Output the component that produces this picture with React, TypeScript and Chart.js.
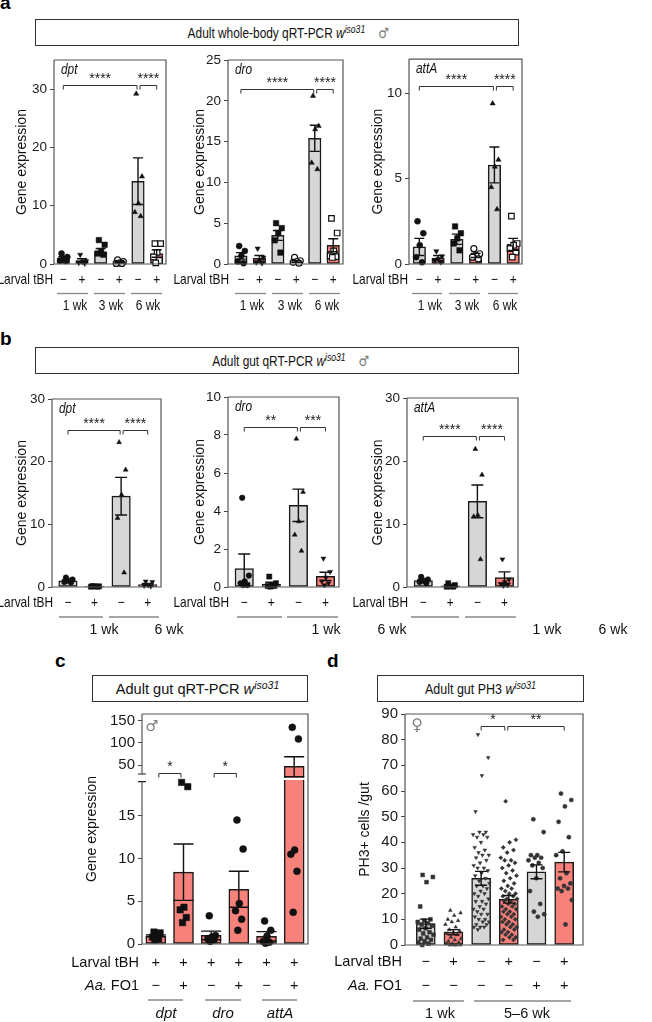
import React, { useEffect, useRef } from 'react';
import { Chart, registerables } from 'chart.js';

Chart.register(...registerables);

const FONT = '"Liberation Sans", Arial, Helvetica, sans-serif';
const SYM_FONT = '"DejaVu Sans", sans-serif';
const GRAY = '#d6d6d6';
const RED = '#f7817b';

// ===== Panel a: adult whole-body qRT-PCR =====
const aLarvalTbh = ['−', '+', '−', '+', '−', '+'];
const aWeeks = ['1 wk', '3 wk', '6 wk'];
const aDptTicks = [0, 10, 20, 30];
const aDroTicks = [0, 5, 10, 15, 20, 25];
const aAttTicks = [0, 5, 10];
const aDptMean = [1.0, 0.6, 2.1, 0.3, 14.2, 1.8];
const aDptSem = [0.25, 0.3, 0.55, 0.12, 4.0, 0.65];
const aDptPts = [[1.8, 1.2, 0.9, 0.6, 0.5], [1.6, 0.5, 0.4, 0.2, 0.1], [4.1, 3.3, 2.1, 1.8, 1.6], [0.7, 0.4, 0.2, 0.1, 0.1], [29.2, 15.0, 10.4, 8.9, 8.2], [3.5, 3.5, 2.0, 1.2, 0.6, 0.2]];
const aDroMean = [1.0, 0.7, 3.5, 0.3, 15.4, 2.3];
const aDroSem = [0.4, 0.35, 0.6, 0.1, 1.6, 0.8];
const aDroPts = [[2.2, 1.6, 1.0, 0.3, 0.1], [1.9, 0.8, 0.5, 0.2, 0.1], [5.0, 4.4, 3.8, 2.9, 1.4], [0.8, 0.4, 0.3, 0.2, 0.1], [20.6, 16.9, 16.5, 12.4, 11.6], [5.6, 3.8, 1.6, 1.0, 0.9, 0.8]];
const aAttMean = [1.0, 0.35, 1.45, 0.5, 5.8, 1.15];
const aAttSem = [0.5, 0.15, 0.3, 0.12, 1.05, 0.35];
const aAttPts = [[2.5, 1.8, 1.1, 0.4, 0.1], [0.75, 0.45, 0.3, 0.2, 0.1], [2.2, 1.8, 1.5, 1.2, 0.8], [0.9, 0.6, 0.5, 0.4, 0.3], [9.4, 6.1, 5.7, 4.5, 3.2], [2.8, 1.2, 1.1, 0.9, 0.7, 0.4]];

// ===== Panel b: adult gut qRT-PCR =====
const bLarvalTbh = ['−', '+', '−', '+'];
const bWeeks = ['1 wk', '6 wk'];
const bDptTicks = [0, 10, 20, 30];
const bDroTicks = [0, 2, 4, 6, 8, 10];
const bAttTicks = [0, 10, 20, 30];
const bDptMean = [1.0, 0.1, 14.5, 0.4];
const bDptSem = [0.15, 0.03, 3.0, 0.15];
const bDptPts = [[1.5, 1.2, 1.0, 0.8, 0.7], [0.15, 0.1, 0.1, 0.05, 0.05], [23.1, 18.7, 14.7, 11.0, 2.3], [0.9, 0.8, 0.3, 0.2, 0.1]];
const bDroMean = [0.97, 0.15, 4.3, 0.56];
const bDroSem = [0.77, 0.1, 0.85, 0.22];
const bDroPts = [[4.7, 0.6, 0.3, 0.2, 0.1, 0.1], [0.55, 0.2, 0.1, 0.05, 0.05, 0.02], [7.8, 5.0, 3.45, 2.75, 1.9], [1.5, 0.8, 0.5, 0.3, 0.2, 0.1]];
const bAttMean = [1.0, 0.2, 13.6, 1.5];
const bAttSem = [0.2, 0.1, 2.6, 0.9];
const bAttPts = [[1.6, 1.2, 1.0, 0.8, 0.6], [0.6, 0.3, 0.1, 0.05, 0.05], [21.9, 17.8, 11.4, 11.2, 4.4], [4.4, 1.2, 0.8, 0.5, 0.3, 0.2]];

// ===== Panel c: adult gut qRT-PCR, Aa. FO1 =====
const cLarvalTbh = ['+', '+', '+', '+', '+', '+'];
const cAaFO1 = ['−', '+', '−', '+', '−', '+'];
const cGenes = ['dpt', 'dro', 'attA'];
const cTicks = [0, 5, 10, 15, 50, 100, 150];
const cTickLabels = ['0', '5', '10', '15', '50', '100', '150'];
const cMean = [0.95, 8.4, 1.0, 6.4, 0.9, 47.5];
const cSem = [0.12, 3.3, 0.5, 2.1, 0.55, 21.5];
const cPts = [[1.4, 1.3, 1.0, 0.8, 0.6, 0.5], [18.9, 18.4, 4.3, 4.0, 3.1, 2.5], [3.3, 1.0, 0.8, 0.6, 0.5, 0.3], [14.5, 11.1, 4.75, 3.9, 2.9, 1.6], [2.7, 1.6, 0.9, 0.3, 0.2, 0.1], [135, 109, 11.0, 10.5, 8.5, 3.7]];

// ===== Panel d: adult gut PH3 =====
const dLarvalTbh = ['−', '+', '−', '+', '−', '+'];
const dAaFO1 = ['−', '−', '−', '−', '+', '+'];
const dWeeks = ['1 wk', '5–6 wk'];
const dTicks = [0, 10, 20, 30, 40, 50, 60, 70, 80, 90];
const dMean = [8.3, 5.0, 26.0, 17.8, 28.5, 32.3];
const dSem = [1.8, 1.0, 2.7, 1.5, 2.7, 3.8];
const dPts = [
  [27.3, 26.5, 24.5, 15, 10, 9.5, 9, 8.5, 8, 7.5, 6.5, 6, 5, 4.5, 4, 3, 2.5, 2, 1.5, 1, 0.5, 0],
  [13.5, 12.5, 11.5, 10, 9.5, 9, 8, 7, 6, 5.5, 5, 4.5, 4, 3, 2.5, 2, 1.5, 1, 0.5, 0.5, 0, 0, 0, 0],
  [82, 73, 66, 52, 44, 44, 43, 43, 42, 42, 40, 38, 37, 36, 35, 35, 34, 33, 32, 31, 30, 30, 29, 28, 27, 26, 25, 24, 23, 23, 22, 21, 20, 20, 19, 18, 17, 17, 16, 15, 14, 14, 13, 12, 12, 11, 10, 10, 9, 9, 8, 8, 7, 7, 7, 6],
  [56, 41, 40, 38, 37, 36, 34, 33, 33, 32, 31, 30, 29, 28, 27, 26, 25, 24, 23, 22, 22, 21, 20, 20, 19, 19, 18, 18, 17, 17, 16, 16, 15, 15, 14, 14, 13, 13, 12, 12, 11, 11, 10, 10, 9, 9, 8, 8, 7, 7, 6, 6, 5, 5, 4, 4, 3, 3, 2, 2],
  [49, 44, 35, 35, 34, 34, 33, 32, 31, 30, 26, 21, 16, 13, 12, 11],
  [59, 56.5, 54, 48, 42, 36.5, 35, 28, 26, 24, 23, 22, 22, 21, 17.5, 8],
];

// ===== helpers =====
type Marker = { style: string; rot?: number; open?: boolean };
const CIRCLE: Marker = { style: 'circle' };
const OPEN_CIRCLE: Marker = { style: 'circle', open: true };
const SQUARE: Marker = { style: 'rect' };
const OPEN_SQUARE: Marker = { style: 'rect', open: true };
const TRI: Marker = { style: 'triangle' };
const TRI_DOWN: Marker = { style: 'triangle', rot: 180 };
const DIAMOND: Marker = { style: 'rectRot' };

type TextFont = { size: number; sx?: number; italic?: boolean };
type Bracket = { a: number; b: number; y: number; label: string; ia?: number; ib?: number };
type Row = { label: string; italicPrefix?: string; y: number; signs: string[] };

interface Cfg {
  canvas: { x: number; y: number; w: number; h: number };
  area: { l: number; t: number; r: number; b: number };
  xMin: number; xMax: number;
  yMax: number; yTicks: number[]; yTickLabels?: string[]; tickSize: number;
  tf?: (v: number) => number;
  brk?: { lo: number; hi: number; band: number };
  means: number[]; sems: number[]; points: number[][];
  colors: string[]; markers: Marker[]; ptR: number; ptColor: string; spread: number;
  barW: number; capW: number;
  yTitle: string; yTitleX: number;
  gene?: string; geneFont?: TextFont;
  gender?: { sym: string; x: number; y: number; size: number };
  brackets: Bracket[];
  rows: Row[]; rowRight: number; rowFont: TextFont;
  groupLines: [number, number][]; groupY: number;
  groupLabels: string[]; groupLabelX: number[]; groupLabelY: number; groupFont: TextFont;
}

function jitter(n: number, spread: number): number[] {
  const out: number[] = [];
  for (let k = 0; k < n; k++) {
    const u = (k * 0.6180339887 + 0.31) % 1;
    out.push((u - 0.5) * 2 * spread);
  }
  return out;
}

function txt(ctx: CanvasRenderingContext2D, s: string, x: number, y: number, o: { size?: number; sx?: number; italic?: boolean; bold?: boolean; align?: CanvasTextAlign; color?: string; baseline?: CanvasTextBaseline; family?: string } = {}) {
  ctx.save();
  ctx.translate(x, y);
  ctx.scale(o.sx ?? 1, 1);
  ctx.font = `${o.italic ? 'italic ' : ''}${o.bold ? 'bold ' : ''}${o.size ?? 14}px ${o.family ?? FONT}`;
  ctx.textAlign = o.align ?? 'center';
  ctx.textBaseline = o.baseline ?? 'middle';
  ctx.fillStyle = o.color ?? '#111';
  ctx.fillText(s, 0, 0);
  ctx.restore();
}

function makeDecor(cfg: Cfg) {
  const tf = cfg.tf ?? ((v: number) => v);
  return {
    id: 'decor',
    afterDatasetsDraw(chart: any) {
      const ctx: CanvasRenderingContext2D = chart.ctx;
      const xs = chart.scales.x, ys = chart.scales.y, ca = chart.chartArea;
      ctx.save();
      if (cfg.brk) {
        ctx.fillStyle = '#ffffff';
        cfg.means.forEach((m, i) => {
          if (tf(m) > cfg.brk!.hi) {
            const x = xs.getPixelForValue(i);
            const yb = ys.getPixelForValue(cfg.brk!.band);
            ctx.fillRect(x - cfg.barW / 2 - 1, yb - 1, cfg.barW + 2, 2.2);
          }
        });
      }
      ctx.strokeStyle = '#111';
      ctx.lineWidth = 1.4;
      cfg.means.forEach((m, i) => {
        const s = cfg.sems[i];
        const x = xs.getPixelForValue(i);
        const y1 = ys.getPixelForValue(tf(m + s));
        const y2 = ys.getPixelForValue(tf(Math.max(0, m - s)));
        const h = cfg.capW / 2;
        ctx.beginPath();
        ctx.moveTo(x, y1); ctx.lineTo(x, y2);
        ctx.moveTo(x - h, y1); ctx.lineTo(x + h, y1);
        ctx.moveTo(x - h, y2); ctx.lineTo(x + h, y2);
        ctx.stroke();
      });
      ctx.strokeStyle = '#555';
      ctx.lineWidth = 1.2;
      const L = ca.left, R = ca.right, T = ca.top, B = ca.bottom;
      ctx.beginPath();
      ctx.moveTo(L, T); ctx.lineTo(R, T); ctx.lineTo(R, B); ctx.lineTo(L, B);
      if (cfg.brk) {
        const yl = ys.getPixelForValue(cfg.brk.lo), yh = ys.getPixelForValue(cfg.brk.hi);
        ctx.lineTo(L, yl);
        ctx.moveTo(L, yh); ctx.lineTo(L, T);
        ctx.stroke();
        ctx.beginPath();
        ctx.strokeStyle = '#222';
        ctx.moveTo(L - 4, yl); ctx.lineTo(L + 4, yl);
        ctx.moveTo(L - 4, yh); ctx.lineTo(L + 4, yh);
        ctx.stroke();
      } else {
        ctx.lineTo(L, T);
        ctx.stroke();
      }
      ctx.restore();
    },
    afterDraw(chart: any) {
      const ctx: CanvasRenderingContext2D = chart.ctx;
      const xs = chart.scales.x, ys = chart.scales.y, ca = chart.chartArea;
      const ox = cfg.canvas.x, oy = cfg.canvas.y;
      // y title
      ctx.save();
      ctx.translate(cfg.yTitleX - ox, (ca.top + ca.bottom) / 2);
      ctx.rotate(-Math.PI / 2);
      ctx.font = `14px ${FONT}`;
      ctx.textAlign = 'center';
      ctx.textBaseline = 'middle';
      ctx.fillStyle = '#111';
      ctx.fillText(cfg.yTitle, 0, 0);
      ctx.restore();
      if (cfg.gene && cfg.geneFont) {
        txt(ctx, cfg.gene, ca.left + 7, ca.top + 14, { ...cfg.geneFont, italic: true, align: 'left', baseline: 'alphabetic' });
      }
      if (cfg.gender) {
        txt(ctx, cfg.gender.sym, cfg.gender.x - ox, cfg.gender.y - oy, { size: cfg.gender.size, color: '#808080', family: SYM_FONT });
      }
      // significance brackets
      ctx.save();
      ctx.strokeStyle = '#333';
      ctx.lineWidth = 1;
      cfg.brackets.forEach((br) => {
        const xa = xs.getPixelForValue(br.a) + (br.ia ?? 0);
        const xb = xs.getPixelForValue(br.b) + (br.ib ?? 0);
        const y = Math.round(ys.getPixelForValue(tf(br.y))) + 0.5;
        ctx.beginPath();
        ctx.moveTo(xa, y + 4); ctx.lineTo(xa, y); ctx.lineTo(xb, y); ctx.lineTo(xb, y + 4);
        ctx.stroke();
        txt(ctx, br.label, (xa + xb) / 2, y - 2.5, { size: 14, baseline: 'alphabetic', color: '#222' });
      });
      ctx.restore();
      // condition rows
      cfg.rows.forEach((row) => {
        const y = row.y - oy;
        const rx = cfg.rowRight - ox;
        txt(ctx, row.label, rx, y, { ...cfg.rowFont, align: 'right' });
        if (row.italicPrefix) {
          ctx.save();
          ctx.font = `${cfg.rowFont.size}px ${FONT}`;
          const w = ctx.measureText(' ' + row.label).width * (cfg.rowFont.sx ?? 1);
          ctx.restore();
          txt(ctx, row.italicPrefix, rx - w, y, { ...cfg.rowFont, align: 'right', italic: true });
        }
        row.signs.forEach((s, i) => txt(ctx, s, xs.getPixelForValue(i), y, cfg.rowFont));
      });
      // group lines + labels
      ctx.save();
      ctx.strokeStyle = '#888';
      ctx.lineWidth = 1.3;
      cfg.groupLines.forEach(([x1, x2]) => {
        ctx.beginPath();
        ctx.moveTo(x1 - ox, cfg.groupY - oy);
        ctx.lineTo(x2 - ox, cfg.groupY - oy);
        ctx.stroke();
      });
      ctx.restore();
      cfg.groupLabels.forEach((t, i) => txt(ctx, t, cfg.groupLabelX[i] - ox, cfg.groupLabelY - oy, cfg.groupFont));
    },
  };
}

function makeConfig(cfg: Cfg): any {
  const tf = cfg.tf ?? ((v: number) => v);
  const datasets: any[] = [];
  cfg.points.forEach((pts, i) => {
    const m = cfg.markers[i];
    const offs = jitter(pts.length, cfg.spread);
    const r = (m.style === 'rect' ? 1.3 : 1) * cfg.ptR;
    datasets.push({
      type: 'scatter',
      data: pts.map((v, k) => ({ x: i + offs[k], y: tf(v) })),
      pointStyle: m.style,
      rotation: m.rot ?? 0,
      pointRadius: r,
      pointHoverRadius: r,
      backgroundColor: m.open ? '#ffffff' : cfg.ptColor,
      borderColor: cfg.ptColor,
      borderWidth: m.open ? 1.2 : 0.5,
      clip: false,
      order: 1,
    });
  });
  datasets.push({
    type: 'bar',
    data: cfg.means.map((v, i) => ({ x: i, y: tf(v) })),
    backgroundColor: cfg.colors,
    borderColor: '#1a1a1a',
    borderWidth: 1.5,
    borderSkipped: false,
    barThickness: cfg.barW,
    order: 2,
  });
  const a = cfg.area, cv = cfg.canvas;
  const yW = 40;
  return {
    type: 'bar',
    data: { datasets },
    options: {
      responsive: false,
      maintainAspectRatio: false,
      animation: false,
      devicePixelRatio: 1,
      events: [],
      layout: { padding: { left: a.l - cv.x - yW, top: a.t - cv.y, right: cv.x + cv.w - a.r, bottom: cv.y + cv.h - a.b } },
      plugins: { legend: { display: false }, tooltip: { enabled: false }, title: { display: false } },
      scales: {
        x: { type: 'linear', min: cfg.xMin, max: cfg.xMax, display: false, offset: false },
        y: {
          type: 'linear',
          min: 0,
          max: cfg.yMax,
          afterFit: (s: any) => { s.width = yW; },
          afterBuildTicks: (s: any) => { s.ticks = cfg.yTicks.map((v) => ({ value: tf(v) })); },
          ticks: {
            autoSkip: false,
            maxRotation: 0,
            padding: 3,
            color: '#1a1a1a',
            font: { family: FONT, size: cfg.tickSize },
            callback: (_v: any, idx: number) => (cfg.yTickLabels ? cfg.yTickLabels[idx] : String(cfg.yTicks[idx])),
          },
          grid: { drawOnChartArea: false, drawTicks: true, tickLength: 4, color: '#444', lineWidth: 1 },
          border: { display: false },
        },
      },
    },
    plugins: [makeDecor(cfg)],
  };
}

function Panel({ cfg }: { cfg: Cfg }) {
  const ref = useRef<HTMLCanvasElement | null>(null);
  useEffect(() => {
    if (!ref.current) return;
    const chart = new Chart(ref.current, makeConfig(cfg));
    return () => chart.destroy();
  }, [cfg]);
  return (
    <canvas
      ref={ref}
      width={cfg.canvas.w}
      height={cfg.canvas.h}
      style={{ position: 'absolute', left: cfg.canvas.x, top: cfg.canvas.y, width: cfg.canvas.w, height: cfg.canvas.h }}
    />
  );
}

// ===== panel configurations =====
const aColors = [GRAY, RED, GRAY, RED, GRAY, RED];
const aMarkers = [CIRCLE, TRI_DOWN, SQUARE, OPEN_CIRCLE, TRI, OPEN_SQUARE];
const bColors = [GRAY, RED, GRAY, RED];
const bMarkers = [CIRCLE, SQUARE, TRI, TRI_DOWN];
const NARROW: TextFont = { size: 14.5, sx: 0.82 };

const aBase = {
  tickSize: 13.5, colors: aColors, markers: aMarkers, ptR: 3, ptColor: '#111', spread: 0.25,
  barW: 12.5, capW: 10, yTitle: 'Gene expression', geneFont: NARROW, rowFont: NARROW,
  groupY: 293.5, groupLabelY: 306, groupFont: NARROW, groupLabels: aWeeks,
};

const A1: Cfg = {
  ...aBase,
  canvas: { x: 0, y: 48, w: 172, h: 268 }, area: { l: 54, t: 60, r: 166, b: 264 },
  xMin: -0.5, xMax: 5.5, yMax: 35, yTicks: aDptTicks,
  means: aDptMean, sems: aDptSem, points: aDptPts, yTitleX: 22, gene: 'dpt',
  brackets: [{ a: 0, b: 4, y: 30.7, label: '****', ib: -1 }, { a: 4, b: 5, y: 30.7, label: '****', ia: 2 }],
  rows: [{ label: 'Larval tBH', y: 280, signs: aLarvalTbh }], rowRight: 53,
  groupLines: [[57, 88], [94, 125], [131, 162]], groupLabelX: [75, 111, 148],
};
const A2: Cfg = {
  ...aBase,
  canvas: { x: 170, y: 48, w: 180, h: 268 }, area: { l: 228, t: 60, r: 343, b: 264 },
  xMin: -0.7, xMax: 5.53, yMax: 25, yTicks: aDroTicks,
  means: aDroMean, sems: aDroSem, points: aDroPts, yTitleX: 200, gene: 'dro',
  brackets: [{ a: 0, b: 4, y: 21.5, label: '****', ib: -1 }, { a: 4, b: 5, y: 21.5, label: '****', ia: 2 }],
  rows: [{ label: 'Larval tBH', y: 280, signs: aLarvalTbh }], rowRight: 229,
  groupLines: [[235, 266], [272, 303], [309, 340]], groupLabelX: [252, 290, 327],
};
const A3: Cfg = {
  ...aBase,
  canvas: { x: 350, y: 48, w: 185, h: 268 }, area: { l: 409, t: 59, r: 522, b: 264 },
  xMin: -0.55, xMax: 5.47, yMax: 12, yTicks: aAttTicks,
  means: aAttMean, sems: aAttSem, points: aAttPts, yTitleX: 378, gene: 'attA',
  brackets: [{ a: 0, b: 4, y: 10.4, label: '****', ib: -1 }, { a: 4, b: 5, y: 10.4, label: '****', ia: 2 }],
  rows: [{ label: 'Larval tBH', y: 280, signs: aLarvalTbh }], rowRight: 408,
  groupLines: [[412, 442], [449, 480], [488, 518]], groupLabelX: [430, 467, 505],
};

const bBase = {
  tickSize: 13.5, colors: bColors, markers: bMarkers, ptR: 2.8, ptColor: '#111', spread: 0.2,
  barW: 18.5, capW: 12, yTitle: 'Gene expression', geneFont: NARROW, rowFont: NARROW,
  groupY: 617, groupLabelY: 630, groupFont: { size: 14 }, groupLabels: bWeeks,
  xMin: -0.6, xMax: 3.5,
};
const B1: Cfg = {
  ...bBase,
  canvas: { x: 0, y: 385, w: 200, h: 255 }, area: { l: 52, t: 399, r: 161, b: 587 },
  yMax: 30, yTicks: bDptTicks, means: bDptMean, sems: bDptSem, points: bDptPts, yTitleX: 22, gene: 'dpt',
  brackets: [{ a: 0, b: 2, y: 25.1, label: '****', ib: -1 }, { a: 2, b: 3, y: 25.1, label: '****', ia: 2 }],
  rows: [{ label: 'Larval tBH', y: 603, signs: bLarvalTbh }], rowRight: 53,
  groupLines: [[59, 103], [109, 159]], groupLabelX: [104, 169],
};
const B2: Cfg = {
  ...bBase,
  canvas: { x: 172, y: 385, w: 240, h: 255 }, area: { l: 228, t: 397, r: 339, b: 587 },
  yMax: 10, yTicks: bDroTicks, means: bDroMean, sems: bDroSem, points: bDroPts, yTitleX: 200, gene: 'dro',
  brackets: [{ a: 0, b: 2, y: 8.4, label: '**', ib: -1 }, { a: 2, b: 3, y: 8.4, label: '***', ia: 2 }],
  rows: [{ label: 'Larval tBH', y: 603, signs: bLarvalTbh }], rowRight: 229,
  groupLines: [[237, 282], [287, 338]], groupLabelX: [326, 392],
};
const B3: Cfg = {
  ...bBase,
  canvas: { x: 352, y: 385, w: 300, h: 255 }, area: { l: 407, t: 398, r: 518, b: 587 },
  yMax: 30, yTicks: bAttTicks, means: bAttMean, sems: bAttSem, points: bAttPts, yTitleX: 378, gene: 'attA',
  brackets: [{ a: 0, b: 2, y: 24.0, label: '****', ib: -1 }, { a: 2, b: 3, y: 24.0, label: '****', ia: 2 }],
  rows: [{ label: 'Larval tBH', y: 603, signs: bLarvalTbh }], rowRight: 408,
  groupLines: [[411, 459], [465, 516]], groupLabelX: [547, 613],
};

// broken axis: 0-19 linear, gap, 30-165 compressed
const cTf = (v: number) => {
  if (v <= 19) return v;
  if (v >= 30) return 19.88 + (v - 30) * 0.052;
  return 19 + (v - 19) * (0.88 / 11);
};

const C: Cfg = {
  canvas: { x: 55, y: 700, w: 265, h: 322 }, area: { l: 142, t: 714, r: 308, b: 944 },
  xMin: -0.5, xMax: 5.5, yMax: cTf(165), yTicks: cTicks, yTickLabels: cTickLabels, tickSize: 15,
  tf: cTf, brk: { lo: 19, hi: 19.88, band: 19.32 },
  means: cMean, sems: cSem, points: cPts,
  colors: [RED, RED, RED, RED, RED, RED], markers: [SQUARE, SQUARE, CIRCLE, CIRCLE, CIRCLE, CIRCLE],
  ptR: 3.5, ptColor: '#111', spread: 0.18, barW: 20, capW: 20,
  yTitle: 'Gene expression', yTitleX: 92,
  gender: { sym: '♂', x: 152, y: 727, size: 15 },
  brackets: [{ a: 0, b: 1, y: 33, label: '*', ia: 3, ib: -2.5 }, { a: 2, b: 3, y: 33, label: '*', ia: 3, ib: -2.5 }],
  rows: [
    { label: 'Larval tBH', y: 963, signs: cLarvalTbh },
    { label: 'FO1', italicPrefix: 'Aa.', y: 986, signs: cAaFO1 },
  ],
  rowRight: 139, rowFont: { size: 14.5 },
  groupLines: [[148, 183], [205, 241], [262, 297]], groupY: 1000,
  groupLabels: cGenes, groupLabelX: [166, 223, 280], groupLabelY: 1014, groupFont: { size: 15, italic: true },
};

const D: Cfg = {
  canvas: { x: 330, y: 700, w: 322, h: 322 }, area: { l: 405, t: 714, r: 583, b: 945 },
  xMin: -0.75, xMax: 5.68, yMax: 90, yTicks: dTicks, tickSize: 15,
  means: dMean, sems: dSem, points: dPts,
  colors: [GRAY, RED, GRAY, RED, GRAY, RED], markers: [SQUARE, TRI, TRI_DOWN, DIAMOND, CIRCLE, CIRCLE],
  ptR: 2.1, ptColor: '#333', spread: 0.3, barW: 19, capW: 12,
  yTitle: 'PH3+ cells /gut', yTitleX: 365,
  gender: { sym: '♀', x: 417, y: 726, size: 16 },
  brackets: [{ a: 2, b: 3, y: 85.4, label: '*', ib: -4 }, { a: 3, b: 5, y: 85.4, label: '**', ia: -1 }],
  rows: [
    { label: 'Larval tBH', y: 962, signs: dLarvalTbh },
    { label: 'FO1', italicPrefix: 'Aa.', y: 986, signs: dAaFO1 },
  ],
  rowRight: 402, rowFont: { size: 14.5 },
  groupLines: [[413, 464], [474, 571]], groupY: 1001,
  groupLabels: dWeeks, groupLabelX: [440, 527], groupLabelY: 1014, groupFont: { size: 14.5 },
};

function TitleBox(props: { x: number; y: number; w: number; h: number; shift: number; sx: number; size: number; children: React.ReactNode }) {
  return (
    <div
      style={{
        position: 'absolute', left: props.x, top: props.y, width: props.w, height: props.h,
        border: '1.3px solid #333', boxSizing: 'border-box', display: 'flex', alignItems: 'center',
        justifyContent: 'center', fontFamily: FONT, fontSize: props.size, color: '#111', overflow: 'visible',
      }}
    >
      <span style={{ display: 'inline-block', whiteSpace: 'nowrap', transform: `translateX(${props.shift}px) scaleX(${props.sx})` }}>
        {props.children}
      </span>
    </div>
  );
}

const Wiso = () => (
  <>
    <i>w</i>
    <sup style={{ fontSize: '0.72em', fontStyle: 'italic', lineHeight: 0, verticalAlign: '0.5em' }}>iso31</sup>
  </>
);

const Male = () => <span style={{ marginLeft: 16, color: '#777', fontFamily: SYM_FONT }}>♂</span>;

function Letter({ ch, x, baseline }: { ch: string; x: number; baseline: number }) {
  return (
    <div style={{ position: 'absolute', left: x, top: baseline - 16.1, font: `bold 19px ${FONT}`, lineHeight: '19px', color: '#000' }}>{ch}</div>
  );
}

export default function App() {
  return (
    <div style={{ position: 'absolute', left: 0, top: 0, width: 652, height: 1022, background: '#fff', overflow: 'hidden' }}>
      <Letter ch="a" x={0} baseline={9.5} />
      <Letter ch="b" x={0} baseline={345} />
      <Letter ch="c" x={55} baseline={667} />
      <Letter ch="d" x={327} baseline={667} />
      <TitleBox x={35} y={19} w={484} h={27} shift={11.5} sx={0.82} size={14.5}>
        Adult whole-body qRT-PCR <Wiso /><Male />
      </TitleBox>
      <TitleBox x={35} y={347} w={484} h={27} shift={14} sx={0.82} size={14.5}>
        Adult gut qRT-PCR <Wiso /><Male />
      </TitleBox>
      <TitleBox x={92} y={675} w={216} h={27} shift={-2.5} sx={1} size={14.6}>
        Adult gut qRT-PCR <Wiso />
      </TitleBox>
      <TitleBox x={377} y={675} w={207} h={27} shift={0} sx={0.86} size={14.5}>
        Adult gut PH3 <Wiso />
      </TitleBox>
      <Panel cfg={A1} />
      <Panel cfg={A2} />
      <Panel cfg={A3} />
      <Panel cfg={B1} />
      <Panel cfg={B2} />
      <Panel cfg={B3} />
      <Panel cfg={C} />
      <Panel cfg={D} />
    </div>
  );
}
